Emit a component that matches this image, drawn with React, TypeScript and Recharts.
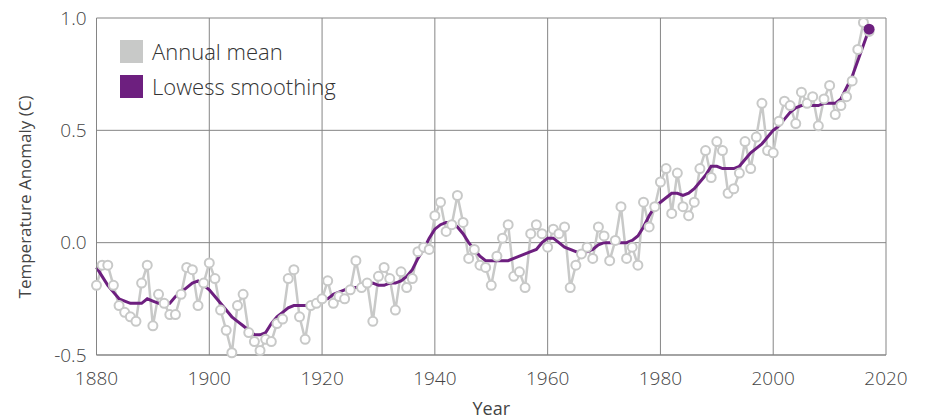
import React from "react";
import { LineChart, Line, XAxis, YAxis, CartesianGrid } from "recharts";

const years: number[] = [];
for (let y = 1880; y <= 2017; y++) years.push(y);

const annualMean = [
  -0.19, -0.10, -0.10, -0.19, -0.28, -0.31, -0.33, -0.35, -0.18, -0.10,
  -0.37, -0.23, -0.27, -0.32, -0.32, -0.23, -0.11, -0.12, -0.28, -0.18,
  -0.09, -0.16, -0.30, -0.39, -0.49, -0.28, -0.23, -0.40, -0.44, -0.48,
  -0.43, -0.44, -0.36, -0.34, -0.16, -0.12, -0.33, -0.43, -0.28, -0.27,
  -0.25, -0.17, -0.27, -0.24, -0.25, -0.21, -0.08, -0.20, -0.18, -0.35,
  -0.15, -0.11, -0.16, -0.30, -0.13, -0.20, -0.16, -0.04, -0.02, -0.03,
  0.12, 0.18, 0.05, 0.08, 0.21, 0.09, -0.07, -0.03, -0.10, -0.11,
  -0.19, -0.06, 0.02, 0.08, -0.15, -0.13, -0.20, 0.04, 0.08, 0.04,
  -0.02, 0.06, 0.04, 0.07, -0.20, -0.10, -0.05, -0.02, -0.07, 0.07,
  0.03, -0.08, 0.01, 0.16, -0.07, -0.02, -0.10, 0.18, 0.07, 0.16,
  0.27, 0.33, 0.13, 0.31, 0.16, 0.12, 0.18, 0.33, 0.41, 0.29,
  0.45, 0.41, 0.22, 0.24, 0.31, 0.45, 0.33, 0.47, 0.62, 0.41,
  0.40, 0.54, 0.63, 0.61, 0.53, 0.67, 0.62, 0.65, 0.52, 0.64,
  0.70, 0.57, 0.61, 0.65, 0.72, 0.86, 0.98, 0.94,
];

const lowess = [
  -0.11, -0.15, -0.19, -0.22, -0.25, -0.26, -0.27, -0.27, -0.27, -0.25,
  -0.26, -0.27, -0.27, -0.27, -0.24, -0.22, -0.20, -0.18, -0.17, -0.19,
  -0.21, -0.24, -0.27, -0.30, -0.33, -0.35, -0.37, -0.39, -0.41, -0.41,
  -0.40, -0.36, -0.33, -0.31, -0.29, -0.28, -0.28, -0.28, -0.28, -0.26,
  -0.25, -0.25, -0.23, -0.22, -0.21, -0.20, -0.20, -0.20, -0.19, -0.18,
  -0.19, -0.19, -0.18, -0.18, -0.17, -0.15, -0.12, -0.07, -0.03, 0.02,
  0.06, 0.08, 0.09, 0.09, 0.07, 0.04, 0.00, -0.03, -0.06, -0.08,
  -0.08, -0.08, -0.08, -0.08, -0.07, -0.06, -0.05, -0.04, -0.03, 0.00,
  0.02, 0.02, 0.00, -0.02, -0.03, -0.04, -0.05, -0.04, -0.03, -0.01,
  0.00, 0.00, 0.00, 0.00, 0.00, 0.01, 0.03, 0.07, 0.12, 0.16,
  0.18, 0.20, 0.22, 0.22, 0.21, 0.22, 0.24, 0.27, 0.30, 0.34,
  0.34, 0.33, 0.33, 0.33, 0.34, 0.37, 0.40, 0.42, 0.44, 0.47,
  0.50, 0.52, 0.55, 0.58, 0.60, 0.61, 0.61, 0.61, 0.61, 0.62,
  0.62, 0.62, 0.64, 0.69, 0.74, 0.81, 0.88, 0.95,
];

const xTicks = [1880, 1900, 1920, 1940, 1960, 1980, 2000, 2020];
const yTicks = [-0.5, 0, 0.5, 1.0];

const GREY = "#c8c9c8";
const PURPLE = "#6d1f7f";
const GRID = "#858585";
const FONT = "'Open Sans', sans-serif";

const data = years.map((year, i) => ({ year, annual: annualMean[i], lowess: lowess[i] }));

function LegendBox() {
  const items = [
    { label: "Annual mean", color: GREY },
    { label: "Lowess smoothing", color: PURPLE },
  ];
  return (
    <div
      style={{
        position: "absolute",
        left: 120,
        top: 34,
        fontFamily: FONT,
        fontWeight: 300,
        fontSize: 22,
        color: "#333",
        lineHeight: "35px",
      }}
    >
      {items.map((it) => (
        <div key={it.label} style={{ display: "flex", alignItems: "center", height: 35 }}>
          <span style={{ width: 23, height: 23, background: it.color, display: "inline-block", marginRight: 9 }} />
          <span>{it.label}</span>
        </div>
      ))}
    </div>
  );
}

function EndDot(props: any) {
  const { cx, cy, index } = props;
  if (index !== lowess.length - 1) return <g key={`d${index}`} />;
  return <circle key={`d${index}`} cx={cx} cy={cy} r={5.5} fill={PURPLE} />;
}

export default function App() {
  return (
    <div style={{ position: "absolute", left: 0, top: 0, width: 927, height: 419, background: "#fff" }}>
      <LineChart width={927} height={419} data={data} margin={{ top: 18, right: 41, left: 0, bottom: 0 }}>
        <CartesianGrid stroke={GRID} strokeWidth={1} />
        <XAxis
          type="number"
          dataKey="year"
          domain={[1880, 2020]}
          ticks={xTicks}
          height={64}
          axisLine={{ stroke: GRID }}
          tickLine={false}
          tickMargin={11}
          tick={{ fontSize: 19, fill: "#444", fontFamily: FONT, fontWeight: 300 }}
          label={{ value: "Year", position: "insideBottom", offset: 4, fontSize: 18, fill: "#444", fontFamily: FONT }}
        />
        <YAxis
          type="number"
          domain={[-0.5, 1.0]}
          ticks={yTicks}
          width={96.5}
          axisLine={{ stroke: GRID }}
          tickLine={false}
          tickMargin={4}
          tickFormatter={(v: number) => v.toFixed(1)}
          tick={{ fontSize: 19, fill: "#444", fontFamily: FONT, fontWeight: 300 }}
          label={{
            content: () => (
              <text
                x={24}
                y={197}
                transform="rotate(-90 24 197)"
                textAnchor="middle"
                dominantBaseline="central"
                fontSize={17}
                fill="#444"
                fontFamily={FONT}
              >
                Temperature Anomaly (C)
              </text>
            ),
          }}
        />
        <Line
          type="linear"
          dataKey="annual"
          stroke={GREY}
          strokeWidth={2.5}
          dot={{ r: 4.5, fill: "#fff", stroke: GREY, strokeWidth: 2 }}
          activeDot={false}
          isAnimationActive={false}
        />
        <Line
          type="linear"
          dataKey="lowess"
          stroke={PURPLE}
          strokeWidth={3}
          dot={<EndDot />}
          activeDot={false}
          isAnimationActive={false}
        />
      </LineChart>
      <LegendBox />
    </div>
  );
}
